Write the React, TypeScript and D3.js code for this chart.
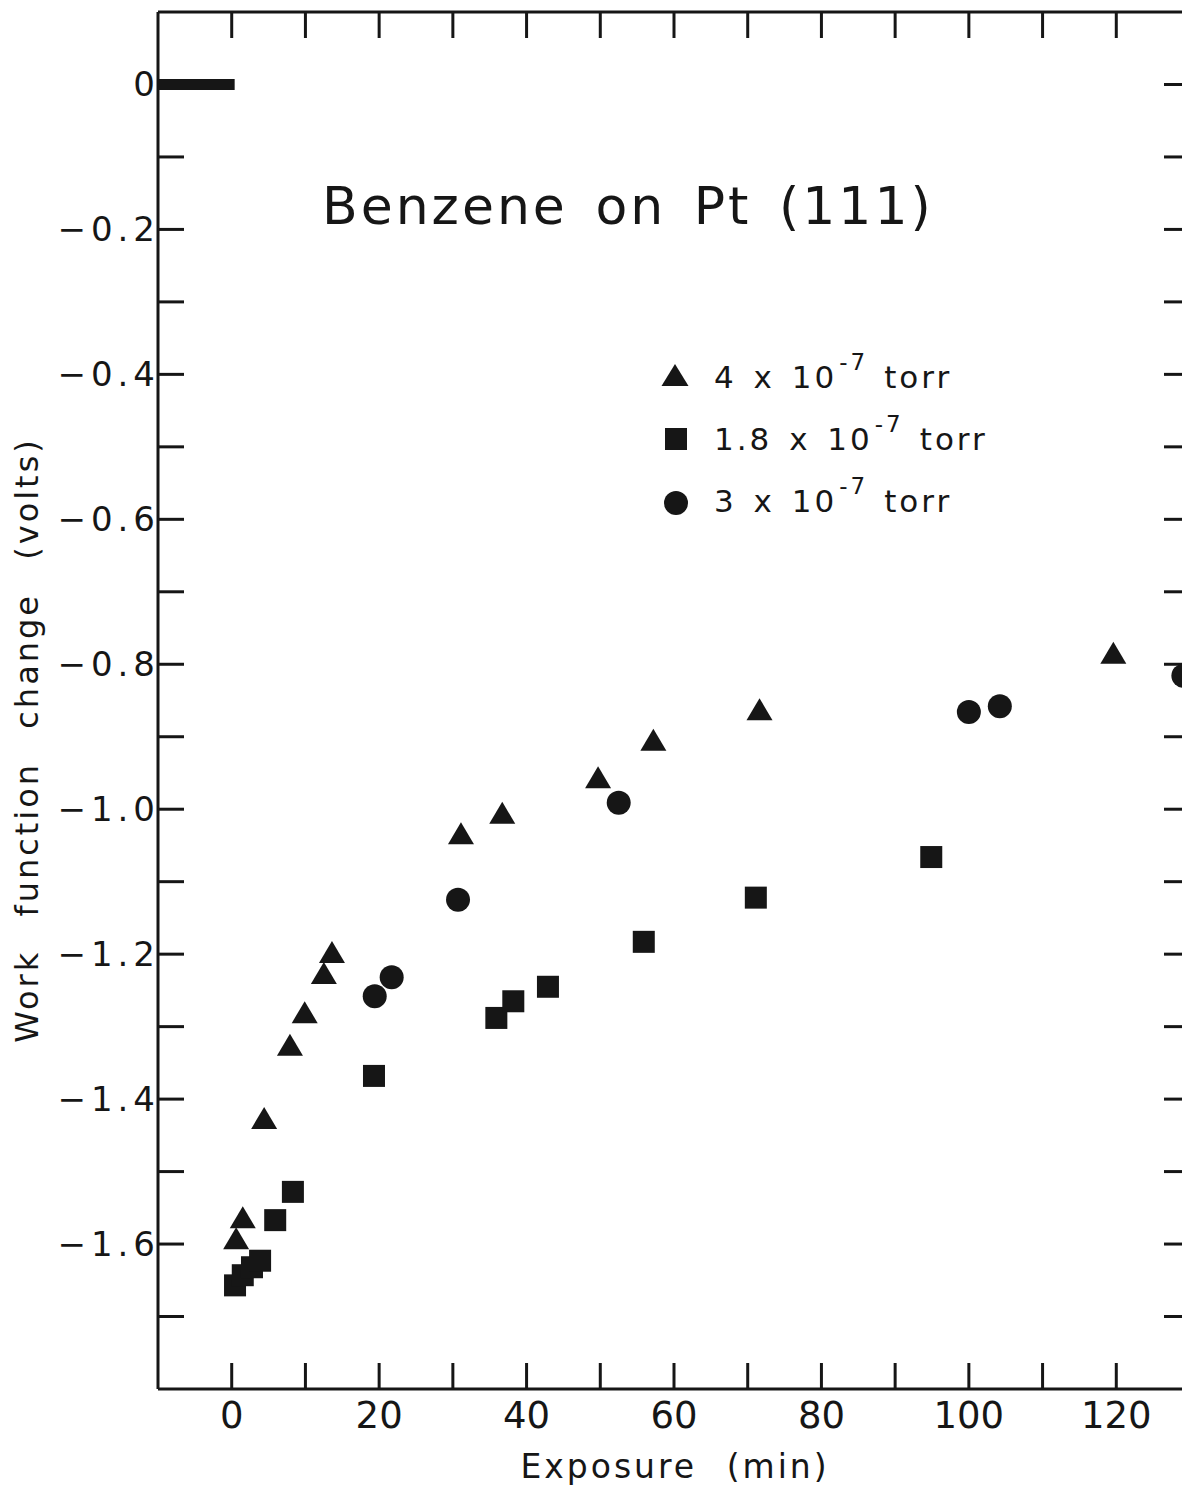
import React from "react";
import * as d3 from "d3";

// ---- data ----
const triExposure = [0.6, 1.5, 4.4, 7.9, 9.9, 12.5, 13.6, 31.1, 36.7, 49.7, 57.2, 71.6, 119.6];
const triChange = [-1.592, -1.563, -1.426, -1.325, -1.28, -1.226, -1.197, -1.033, -1.005, -0.956, -0.904, -0.862, -0.784];

const sqExposure = [0.45, 1.5, 2.75, 3.85, 5.9, 8.3, 19.3, 35.9, 38.2, 42.9, 55.9, 71.1, 94.9];
const sqChange = [-1.657, -1.643, -1.632, -1.623, -1.567, -1.528, -1.368, -1.288, -1.265, -1.245, -1.183, -1.122, -1.066];

const ciExposure = [19.4, 21.7, 30.7, 52.5, 100.0, 104.2, 129.1];
const ciChange = [-1.258, -1.232, -1.125, -0.991, -0.866, -0.858, -0.816];

const baselineExposure = [-10, 0.4];
const baselineChange = [0, 0];

const xTickValues = [0, 10, 20, 30, 40, 50, 60, 70, 80, 90, 100, 110, 120];
const xTopTickValues = [0, 10, 20, 30, 40, 50, 60, 70, 80, 90, 100, 110, 120, 130];
const xLabelValues = [0, 20, 40, 60, 80, 100, 120];
const yTickValues = [0, -0.1, -0.2, -0.3, -0.4, -0.5, -0.6, -0.7, -0.8, -0.9, -1.0, -1.1, -1.2, -1.3, -1.4, -1.5, -1.6, -1.7];
const yLabelValues = [0, -0.2, -0.4, -0.6, -0.8, -1.0, -1.2, -1.4, -1.6];

const legendPressures = ["4 x 10", "1.8 x 10", "3 x 10"];
const legendExponent = "-7";
const legendUnit = "torr";

const titleText = "Benzene on Pt (111)";
const xTitle = "Exposure (min)";
const yTitle = "Work function change (volts)";

const INK = "#161616";
const FONT = "'DejaVu Sans', sans-serif";

export default function App() {
  const W = 1182;
  const H = 1486;
  const left = 158;
  const right = 1190;
  const top = 12;
  const bottom = 1389;

  const x = d3.scaleLinear().domain([-10, 130]).range([left, right]);
  const y = d3.scaleLinear().domain([-1.8, 0.1]).range([bottom, top]);

  const tickLen = 26;
  const tri = (cx: number, cy: number, w = 26, h = 22) =>
    `M${cx},${cy - h / 2}L${cx + w / 2},${cy + h / 2}L${cx - w / 2},${cy + h / 2}Z`;
  const sqSize = 22;
  const ciR = 12;

  const yLabelFmt = (v: number) => (v === 0 ? "0" : d3.format(".1f")(v));

  const baseLine = d3
    .line<number>()
    .x((_, i) => x(baselineExposure[i]))
    .y((_, i) => y(baselineChange[i]));

  return (
    <svg
      width={W}
      height={H}
      style={{ position: "absolute", left: 0, top: 0, background: "#fff" }}
      fontFamily={FONT}
    >
      <rect x={0} y={0} width={W} height={H} fill="#fff" />
      {/* frame */}
      <g stroke={INK} strokeWidth={3} fill="none">
        <line x1={left} y1={top} x2={right} y2={top} />
        <line x1={left} y1={bottom} x2={right} y2={bottom} />
        <line x1={left} y1={top} x2={left} y2={bottom} />
        <line x1={right} y1={top} x2={right} y2={bottom} />
      </g>
      {/* ticks */}
      <g stroke={INK} strokeWidth={3}>
        {xTopTickValues.map((v) => (
          <line key={"tt" + v} x1={x(v)} x2={x(v)} y1={top} y2={top + tickLen} />
        ))}
        {xTickValues.map((v) => (
          <line key={"bt" + v} x1={x(v)} x2={x(v)} y1={bottom} y2={bottom - tickLen} />
        ))}
        {yTickValues.filter((v) => v !== 0).map((v) => (
          <line key={"lt" + v} x1={left} x2={left + tickLen} y1={y(v)} y2={y(v)} />
        ))}
        {yTickValues.map((v) => (
          <line key={"rt" + v} x1={right} x2={right - tickLen} y1={y(v)} y2={y(v)} />
        ))}
      </g>
      {/* zero baseline bar */}
      <path d={baseLine(baselineExposure) || ""} stroke={INK} strokeWidth={11} fill="none" />
      {/* tick labels */}
      <g fill={INK} fontSize={37}>
        {xLabelValues.map((v) => (
          <text key={"xl" + v} x={x(v)} y={1428} textAnchor="middle">
            {String(v)}
          </text>
        ))}
      </g>
      <g fill={INK} fontSize={34} letterSpacing={5}>
        {yLabelValues.map((v) => (
          <text key={"yl" + v} x={160} y={y(v) + 12} textAnchor="end">
            {yLabelFmt(v)}
          </text>
        ))}
      </g>
      {/* axis titles */}
      <text x={675} y={1478} textAnchor="middle" fontSize={33} fill={INK} letterSpacing={3} wordSpacing={16}>
        {xTitle}
      </text>
      <text
        transform="translate(38,740) rotate(-90)"
        textAnchor="middle"
        fontSize={32}
        fill={INK}
        letterSpacing={3}
        wordSpacing={20}
      >
        {yTitle}
      </text>
      {/* title */}
      <text x={322} y={224} fontSize={52} fill={INK} letterSpacing={3} wordSpacing={8}>
        {titleText}
      </text>
      {/* data */}
      <g fill={INK}>
        {triExposure.map((v, i) => (
          <path key={"tr" + i} d={tri(x(v), y(triChange[i]))} />
        ))}
        {sqExposure.map((v, i) => (
          <rect
            key={"sq" + i}
            x={x(v) - sqSize / 2}
            y={y(sqChange[i]) - sqSize / 2}
            width={sqSize}
            height={sqSize}
          />
        ))}
        {ciExposure.map((v, i) => (
          <circle key={"ci" + i} cx={x(v)} cy={y(ciChange[i])} r={ciR} />
        ))}
      </g>
      {/* legend */}
      <g fill={INK} fontSize={31} letterSpacing={3} wordSpacing={4}>
        {legendPressures.map((p, i) => {
          const by = 388 + i * 62;
          return (
            <g key={"lg" + i}>
              {i === 0 && <path d={tri(675, by - 13, 27, 22)} />}
              {i === 1 && <rect x={665} y={by - 22} width={22} height={22} />}
              {i === 2 && <circle cx={676} cy={by - 9} r={12} />}
              <text x={714} y={by}>
                <tspan>{p}</tspan>
                <tspan dx={2} dy={-18} fontSize={23}>
                  {legendExponent}
                </tspan>
                <tspan dx={16} dy={18}>
                  {legendUnit}
                </tspan>
              </text>
            </g>
          );
        })}
      </g>
    </svg>
  );
}
